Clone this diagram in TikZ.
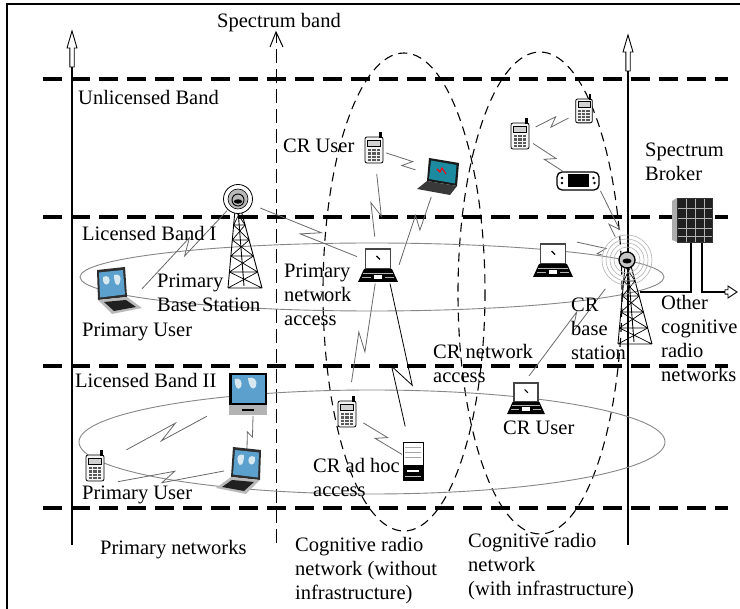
\documentclass[tikz,border=0pt]{standalone}
\usepackage{fontspec}
\setmainfont{Liberation Serif}
\usetikzlibrary{calc}

\definecolor{mapsea}{RGB}{92,160,205}
\definecolor{mapland}{RGB}{215,232,240}
\definecolor{darkscreen}{RGB}{40,90,120}
\definecolor{linkgray}{RGB}{105,105,105}
\definecolor{ringgray}{RGB}{135,135,135}

\tikzset{
  lbl/.style={font=\fontsize{20.5}{24}\selectfont, inner sep=0pt, anchor=base west},
  mlbl/.style={font=\fontsize{20.5}{24}\selectfont, inner sep=0pt, anchor=north west, align=left},
  band/.style={line width=4pt, dash pattern=on 19pt off 9pt},
  zone/.style={line width=1.1pt, dash pattern=on 9pt off 6pt},
  axisline/.style={line width=1.1pt},
  link/.style={draw=linkgray, line width=0.8pt},
  coverage/.style={draw=ringgray, line width=0.9pt},
  bolt/.style={link, to path={-- ($(\tikztostart)!0.58!(\tikztotarget)!#1!90:(\tikztotarget)$) -- ($(\tikztostart)!0.46!(\tikztotarget)!#1!-90:(\tikztotarget)$) -- (\tikztotarget) \tikztonodes}},
  bolt/.default=5pt,
  dev/.style={draw=none, inner sep=0pt, outer sep=1pt, rectangle},
  devc/.style={draw=none, inner sep=0pt, outer sep=1pt, circle},
  % cell phone
  phone/.pic={
    \draw[line width=0.8pt, fill=gray!8, rounded corners=2pt] (-9,-12) rectangle (9,14);
    \fill[black] (5,-11) rectangle (7.5,-17);
    \draw[line width=0.6pt, fill=gray!35] (-6.5,-9) rectangle (6.5,-2.5);
    \foreach \i in {0,1,2} \foreach \j in {0,1,2,3}
      \fill[gray!70!black] ({-6.3+\i*4.5},{\j*3.3}) rectangle ++(3.3,2.3);
  },
  % black and white laptop
  bwlaptop/.pic={
    \draw[line width=1.5pt, draw=gray!55!black, fill=white] (-12.5,-16) rectangle (12.5,4);
    \draw[line width=1.1pt] (-1.5,-9) -- (2,-5.5);
    \fill[black] (-14,4) -- (14,4) -- (20,17) -- (-20,17) -- cycle;
    \fill[white] (-4,10) rectangle (4,14);
    \draw[gray!60, line width=0.7pt] (-16,12) -- (-7,12) (7,12) -- (16,12) (-15,8) -- (15,8);
  },
  % laptop with a world map on screen
  maplaptop/.pic={
    \fill[gray!35!black] (-21,-21) -- (7,-24) -- (9,6) -- (-20,9) -- cycle;
    \fill[mapsea] (-19,-18.5) -- (5,-21) -- (7,3.5) -- (-18,6.5) -- cycle;
    \fill[mapland] (-15,-14) .. controls (-10,-17) and (-7,-12) .. (-9,-8) .. controls (-12,-4) and (-16,-8) .. cycle;
    \fill[mapland] (-4,-16) .. controls (1,-18) and (4,-14) .. (2,-9) .. controls (0,-3) and (-4,-6) .. cycle;
    \fill[gray!55] (-20,9) -- (9,6) -- (24,17) -- (-6,23) -- cycle;
    \fill[gray!25!black] (-14,11) -- (8,9) -- (18,16) -- (-4,20) -- cycle;
  },
  % laptop seen from the front
  monlaptop/.pic={
    \fill[black] (-19,-21) rectangle (19,11);
    \fill[mapsea] (-16.5,-18.5) rectangle (16.5,9);
    \fill[mapland] (-13,-15) .. controls (-8,-17) and (-5,-12) .. (-7,-7) .. controls (-10,-2) and (-14,-8) .. cycle;
    \fill[mapland] (0,-16) .. controls (6,-18) and (10,-13) .. (8,-8) .. controls (5,-2) and (1,-7) .. cycle;
    \fill[gray!60] (-19,11) rectangle (19,21);
    \fill[black] (-6,15) rectangle (6,17);
  },
  % laptop with dark screen and red trace
  crlaptop/.pic={
    \fill[gray!20!black] (-9,-19) -- (21,-14) -- (19,9) -- (-11,4) -- cycle;
    \fill[darkscreen!70!cyan] (-7,-16.5) -- (18.5,-12) -- (17,6.5) -- (-9,2) -- cycle;
    \draw[red, line width=1.1pt] (-1,-8) -- (2,-5) -- (4,-9) -- (8,-3);
    \fill[gray!45!black] (-11,4) -- (19,9) -- (12,18) -- (-21,12) -- cycle;
  },
  % hand-held console
  pda/.pic={
    \draw[line width=1.3pt, fill=white, rounded corners=5pt] (-21,-9) rectangle (21,9);
    \fill[black] (-10,-6.5) rectangle (11,6.5);
    \fill[black] (-16,-3) circle (1.3) (-16,2) circle (1.3) (15.5,-3) circle (1.3) (16.5,2) circle (1.3);
  },
  % tower computer
  server/.pic={
    \draw[line width=0.6pt, fill=white] (-10,-19) rectangle (10,19);
    \draw[gray!70, line width=0.8pt] (-8,-14) -- (8,-14) (-8,-9) -- (8,-9) (-8,-4) -- (8,-4);
    \fill[black] (-10,4) rectangle (10,19);
    \fill[white] (-6,9) rectangle (6,11);
    \fill[gray!50] (-8,15) rectangle (8,16);
  },
  % server cabinet
  rack/.pic={
    \fill[gray!25!black] (-15,-22) rectangle (20,22);
    \fill[gray!65] (-20,-19) -- (-15,-22) -- (-15,22) -- (-20,20) -- cycle;
    \foreach \x in {-6,3,12} \draw[gray!60, line width=0.7pt] (\x,-22) -- (\x,22);
    \foreach \y in {-12,-2,8,16} \draw[gray!60, line width=0.7pt] (-15,\y) -- (20,\y);
    \draw[gray!40!black, line width=0.8pt] (-15,-22) rectangle (20,22);
  },
  % lattice mast, origin at its top
  lattice/.pic={
    \draw[line width=0.9pt] (-3,0) -- (-10,78) (3,0) -- (24,78) (0,0) -- (6,76);
    \foreach \a/\b in {0/15,15/30,30/46,46/62,62/78}{
      \draw[line width=0.7pt] ({-3-7*\a/78},\a) -- ({3+21*\b/78},\b)
                              ({3+21*\a/78},\a) -- ({-3-7*\b/78},\b)
                              ({-3-7*\b/78},\b) -- ({3+21*\b/78},\b);
    }
  },
  % antenna heads
  pdish/.pic={
    \draw[line width=0.8pt, fill=white] (0,0) circle (14.5);
    \draw[line width=0.6pt, fill=gray!55] (0,0) circle (10);
    \draw[line width=0.9pt] (0,1) circle (6);
    \fill[black] (0,2.5) ellipse (4.2 and 2.2);
  },
  crdish/.pic={
    \foreach \r in {25,21,17,13} \draw[gray!60, line width=0.6pt] (0,0) circle (\r);
    \draw[line width=1.3pt, fill=gray!45] (0,0) circle (8);
    \fill[black] (0,1) ellipse (4.5 and 2.5);
  },
  % hollow arrow head pointing up, origin at the tip
  hollowup/.pic={
    \draw[line width=0.9pt, fill=white] (0,0) -- (5,17) -- (2.2,17) -- (2.2,36) -- (-2.2,36) -- (-2.2,17) -- (-5,17) -- cycle;
  },
  hollowright/.pic={
    \draw[line width=0.9pt, fill=white] (0,0) -- (-9,-6) -- (-9,-2.2) -- (-12,-2.2) -- (-12,2.2) -- (-9,2.2) -- (-9,6) -- cycle;
  },
}

\begin{document}
\begin{tikzpicture}[x=1pt,y=-1pt]
\useasboundingbox (0,0) rectangle (740,609);
\fill[white] (0,0) rectangle (740,609);

% frame
\draw[line width=1.5pt] (7,609) -- (7,4) -- (740,4);

% band borders
\foreach \y in {79,217,366,508}
  \draw[band] (43,\y) -- (728,\y);

% spectrum axes
\draw[axisline] (72,545) -- (72,66);
\pic at (72,31) {hollowup};
\draw[axisline] (628,545) -- (628,70);
\pic at (628,35) {hollowup};
\draw[line width=1pt, dash pattern=on 14pt off 6pt] (276,543) -- (276,33);
\draw[line width=1pt] (270,47) -- (276,32) -- (283,47);

% cognitive radio network zones
\draw[zone] (404,292) ellipse [x radius=81, y radius=239];
\draw[zone] (540,293) ellipse [x radius=82, y radius=241];

% licensed band coverage
\draw[coverage] (372,277) ellipse [x radius=292, y radius=34];
\draw[coverage] (372,442) ellipse [x radius=293, y radius=52];

% devices
\node[devc, minimum size=30pt] (pbs) at (238,199) {};
\node[dev, minimum width=42pt, minimum height=42pt] (pu1) at (118,291) {};
\node[dev, minimum width=40pt, minimum height=35pt] (crl) at (378,265) {};
\node[dev, minimum width=22pt, minimum height=32pt] (cru1) at (374,149) {};
\node[dev, minimum width=43pt, minimum height=38pt] (crl2) at (438,177) {};
\node[dev, minimum width=22pt, minimum height=32pt] (crp) at (347,413) {};
\node[dev, minimum width=20pt, minimum height=38pt] (srv) at (413,461) {};
\node[dev, minimum width=24pt, minimum height=28pt] (ph1) at (520,135) {};
\node[dev, minimum width=22pt, minimum height=26pt] (ph2) at (584,110) {};
\node[dev, minimum width=43pt, minimum height=18pt] (pda) at (578,181) {};
\node[devc, minimum size=50pt] (crbs) at (627,260) {};
\node[dev, minimum width=40pt, minimum height=35pt] (crl3) at (553,260) {};
\node[dev, minimum width=38pt, minimum height=34pt] (crl4) at (526,398) {};
\node[dev, minimum width=40pt, minimum height=44pt] (broker) at (692,220) {};
\node[dev, minimum width=38pt, minimum height=42pt] (pl2) at (248,394) {};
\node[dev, minimum width=50pt, minimum height=37pt] (pl3) at (240,471) {};
\node[dev, minimum width=24pt, minimum height=31pt] (pph) at (95,467) {};
\coordinate (brkin) at (640,292);
\coordinate (othnet) at (726,292);

% wireless links
\draw[bolt, shorten >=3pt] (pbs) to (pu1.east);
\draw[bolt, shorten <=8pt] (pbs) to (crl);
\draw[bolt, shorten <=8pt, shorten >=10pt] (cru1) to (crl);
\draw[bolt=4pt] (cru1) to (crl2);
\draw[bolt] (crl2) to (crl.east);
\draw[bolt, shorten >=14pt] (crl) to (crp);
\draw[bolt=9pt, draw=black, shorten >=15pt] ([xshift=12pt]crl.south) to (srv);
\draw[bolt=4pt, shorten <=5pt] (crp) to (srv);
\draw[bolt=4pt, shorten <=3pt, shorten >=4pt] (ph1) to (ph2);
\draw[bolt=4pt] (ph1) to (pda);
\draw[bolt=4pt] (pda.south east) to (crbs);
\draw[bolt=4pt, shorten <=3pt] (crl3.north east) to (crbs);
\draw[bolt, shorten <=10pt, shorten >=5pt] (crbs) to (crl4.north);
\draw[bolt, shorten <=24pt, shorten >=21pt] (pl2) to (pph);
\draw[bolt=3pt] ([xshift=5pt]pl2.south) to ([xshift=7pt]pl3.north);
\draw[bolt, shorten <=10pt] (pph.south east) to ([xshift=10pt]pl3.west);

% spectrum broker wiring
\draw[axisline] ([xshift=-1pt]broker.south) |- (brkin);
\draw[axisline] ([xshift=10pt]broker.south) |- (othnet);
\pic at (737,292) {hollowright};

% device icons
\pic at (238,210) {lattice};
\pic at (pbs) {pdish};
\pic at (628,266) {lattice};
\pic at (crbs) {crdish};
\pic at (pu1) {maplaptop};
\pic at (crl) {bwlaptop};
\pic at (crl3) {bwlaptop};
\pic[scale=0.95] at (crl4) {bwlaptop};
\pic at (cru1) {phone};
\pic at (crp) {phone};
\pic at (ph1) {phone};
\pic[scale=0.92] at (ph2) {phone};
\pic at (pph) {phone};
\pic at (crl2) {crlaptop};
\pic at (srv) {server};
\pic at (pda) {pda};
\pic at (broker) {rack};
\pic at (pl2) {monlaptop};
\pic[xscale=-1] at (pl3) {maplaptop};

% labels
\node[lbl] (spec-l) at (217,28) {Spectrum band};
\node[lbl] (unlic-l) at (78,105) {Unlicensed Band};
\node[lbl] (cru1-l) at (283,153) {CR User};
\node[mlbl] (brk-l) at (645,143) {Spectrum\\Broker};
\node[lbl] (lb1-l) at (82,241) {Licensed Band I};
\node[mlbl] (pbs-l) at (157,274) {Primary\\Base Station};
\node[lbl] (pu1-l) at (82,337) {Primary User};
\node[mlbl] (pna-l) at (284,264) {Primary\\network\\access};
\node[mlbl] (crbs-l) at (571,298) {CR\\base\\station};
\node[mlbl] (oth-l) at (661,295) {Other\\cognitive\\radio\\networks};
\node[mlbl] (cna-l) at (433,344) {CR network\\access};
\node[lbl] (lb2-l) at (75,388) {Licensed Band II};
\node[lbl] (cru2-l) at (503,435) {CR User};
\node[mlbl] (adhoc-l) at (313,458) {CR ad hoc\\access};
\node[lbl] (pu2-l) at (82,500) {Primary User};
\node[lbl] (pnet-l) at (100,555) {Primary networks};
\node[mlbl] (crn1-l) at (295,537) {Cognitive radio\\network (without\\infrastructure)};
\node[mlbl] (crn2-l) at (468,533) {Cognitive radio\\network\\(with infrastructure)};
\end{tikzpicture}
\end{document}
